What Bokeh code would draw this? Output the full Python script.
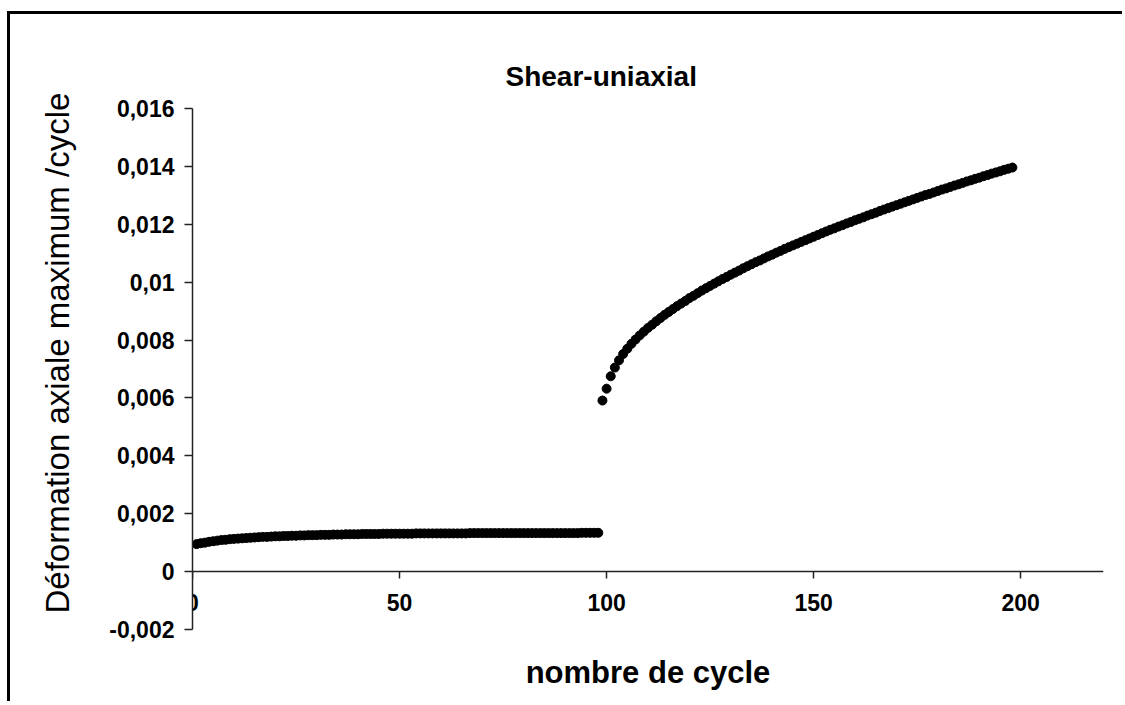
from bokeh.plotting import figure
from bokeh.models import (Range1d, FixedTicker, CustomJSTickFormatter, Title,
                          ColumnDataSource, LinearAxis)
from bokeh.embed import file_html
from bokeh.resources import INLINE

# ---------------- data ----------------
title_text = "Shear-uniaxial"
x_title = "nombre de cycle"
y_title = "Déformation axiale maximum /cycle"

x_ticks = [0, 50, 100, 150, 200]
y_ticks = [-0.002, 0, 0.002, 0.004, 0.006, 0.008, 0.010, 0.012, 0.014, 0.016]

# phase 1 (cycles 1..98), strain in units of 1e-3
phase1_cycles = list(range(1, 99))
phase1_strain_e3 = [
    0.95, 0.98, 1.00, 1.03, 1.05, 1.07, 1.09, 1.10, 1.12, 1.13,
    1.14, 1.15, 1.16, 1.17, 1.18, 1.19, 1.20, 1.20, 1.21, 1.22,
    1.22, 1.23, 1.23, 1.24, 1.24, 1.25, 1.25, 1.26, 1.26, 1.26,
    1.27, 1.27, 1.27, 1.28, 1.28, 1.28, 1.29, 1.29, 1.29, 1.29,
    1.30, 1.30, 1.30, 1.30, 1.30, 1.31, 1.31, 1.31, 1.31, 1.31,
    1.31, 1.31, 1.31, 1.32, 1.32, 1.32, 1.32, 1.32, 1.32, 1.32,
    1.32, 1.32, 1.32, 1.32, 1.32, 1.32, 1.33, 1.33, 1.33, 1.33,
    1.33, 1.33, 1.33, 1.33, 1.33, 1.33, 1.33, 1.33, 1.33, 1.33,
    1.33, 1.33, 1.33, 1.33, 1.33, 1.33, 1.33, 1.33, 1.33, 1.33,
    1.33, 1.33, 1.33, 1.34, 1.34, 1.34, 1.34, 1.34,
]

# phase 2 (cycles 99..198), strain in units of 1e-3
phase2_cycles = list(range(99, 199))
phase2_strain_e3 = [
    5.91, 6.32, 6.75, 7.05, 7.30, 7.52, 7.70, 7.87, 8.02, 8.16,
    8.29, 8.42, 8.53, 8.65, 8.76, 8.87, 8.97, 9.07, 9.17, 9.26,
    9.35, 9.45, 9.53, 9.62, 9.71, 9.79, 9.87, 9.95, 10.03, 10.11,
    10.18, 10.26, 10.33, 10.40, 10.48, 10.55, 10.62, 10.69, 10.75, 10.82,
    10.89, 10.95, 11.02, 11.08, 11.15, 11.21, 11.27, 11.33, 11.39, 11.45,
    11.51, 11.57, 11.63, 11.69, 11.75, 11.81, 11.86, 11.92, 11.97, 12.03,
    12.08, 12.14, 12.19, 12.24, 12.30, 12.35, 12.40, 12.46, 12.51, 12.56,
    12.61, 12.66, 12.71, 12.76, 12.81, 12.86, 12.91, 12.96, 13.01, 13.05,
    13.10, 13.15, 13.20, 13.24, 13.29, 13.34, 13.38, 13.43, 13.48, 13.52,
    13.57, 13.61, 13.66, 13.70, 13.75, 13.79, 13.83, 13.88, 13.92, 13.96,
]

cycles = phase1_cycles + phase2_cycles
strain = [v / 1000.0 for v in phase1_strain_e3 + phase2_strain_e3]

# ---------------- layout ----------------
FONT = "Liberation Sans"
X_MIN, X_MAX = 0, 220
Y_MIN, Y_MAX = -0.002, 0.016

p = figure(width=1115, height=690, output_backend="svg", toolbar_location=None,
           x_range=Range1d(X_MIN, X_MAX), y_range=Range1d(Y_MIN, Y_MAX),
           min_border_left=181, min_border_right=22, min_border_top=94,
           min_border_bottom=75)
p.styles = {"border-top": "3px solid black", "border-left": "3px solid black",
            "margin-top": "11px", "margin-left": "7px"}

p.background_fill_color = "white"
p.border_fill_color = "white"
p.outline_line_color = None
p.xgrid.visible = False
p.ygrid.visible = False

src = ColumnDataSource(dict(x=cycles, y=strain))
p.scatter("x", "y", source=src, marker="circle", size=9,
          fill_color="black", line_color="black")

axis_color = "#222222"

xa = p.xaxis[0]
xa.fixed_location = 0
xa.ticker = FixedTicker(ticks=x_ticks)
xa.minor_tick_line_color = None
xa.major_tick_in = 0
xa.major_tick_out = 7
xa.axis_line_width = 1.5
xa.major_tick_line_width = 1.5
xa.axis_line_color = axis_color
xa.major_tick_line_color = axis_color
xa.major_label_text_font = FONT
xa.major_label_text_font_style = "bold"
xa.major_label_text_font_size = "23px"
xa.major_label_text_color = "black"
xa.major_label_standoff = 15

ya = p.yaxis[0]
ya.ticker = FixedTicker(ticks=y_ticks)
ya.minor_tick_line_color = None
ya.major_tick_in = 0
ya.major_tick_out = 8
ya.axis_line_width = 1.5
ya.major_tick_line_width = 1.5
ya.axis_line_color = axis_color
ya.major_tick_line_color = axis_color
ya.major_label_text_font = FONT
ya.major_label_text_font_style = "bold"
ya.major_label_text_font_size = "23px"
ya.major_label_text_color = "black"
ya.major_label_standoff = 10
ya.formatter = CustomJSTickFormatter(code="""
    const s = parseFloat(tick.toFixed(6)).toString();
    return s.replace('.', ',');
""")

# x-axis title: label of an extra, otherwise invisible axis below the frame
x_title_axis = LinearAxis(ticker=FixedTicker(ticks=[]), axis_label=x_title,
                          axis_line_color=None, major_tick_line_color=None,
                          minor_tick_line_color=None, major_tick_in=0,
                          major_tick_out=0, minor_tick_in=0, minor_tick_out=0,
                          major_label_text_font_size="0px",
                          axis_label_text_font=FONT,
                          axis_label_text_font_style="bold",
                          axis_label_text_font_size="31px",
                          axis_label_text_color="black",
                          axis_label_standoff=25)
p.add_layout(x_title_axis, "below")

p.add_layout(Title(text=y_title, text_font=FONT, text_font_style="normal",
                   text_font_size="33px", text_color="black",
                   align="left", vertical_align="top", offset=16,
                   standoff=57), "left")

p.add_layout(Title(text=title_text, text_font=FONT, text_font_style="bold",
                   text_font_size="28px", text_color="black",
                   align="left", offset=313, standoff=34), "above")

open("out.html", "w").write(file_html(p, INLINE))
